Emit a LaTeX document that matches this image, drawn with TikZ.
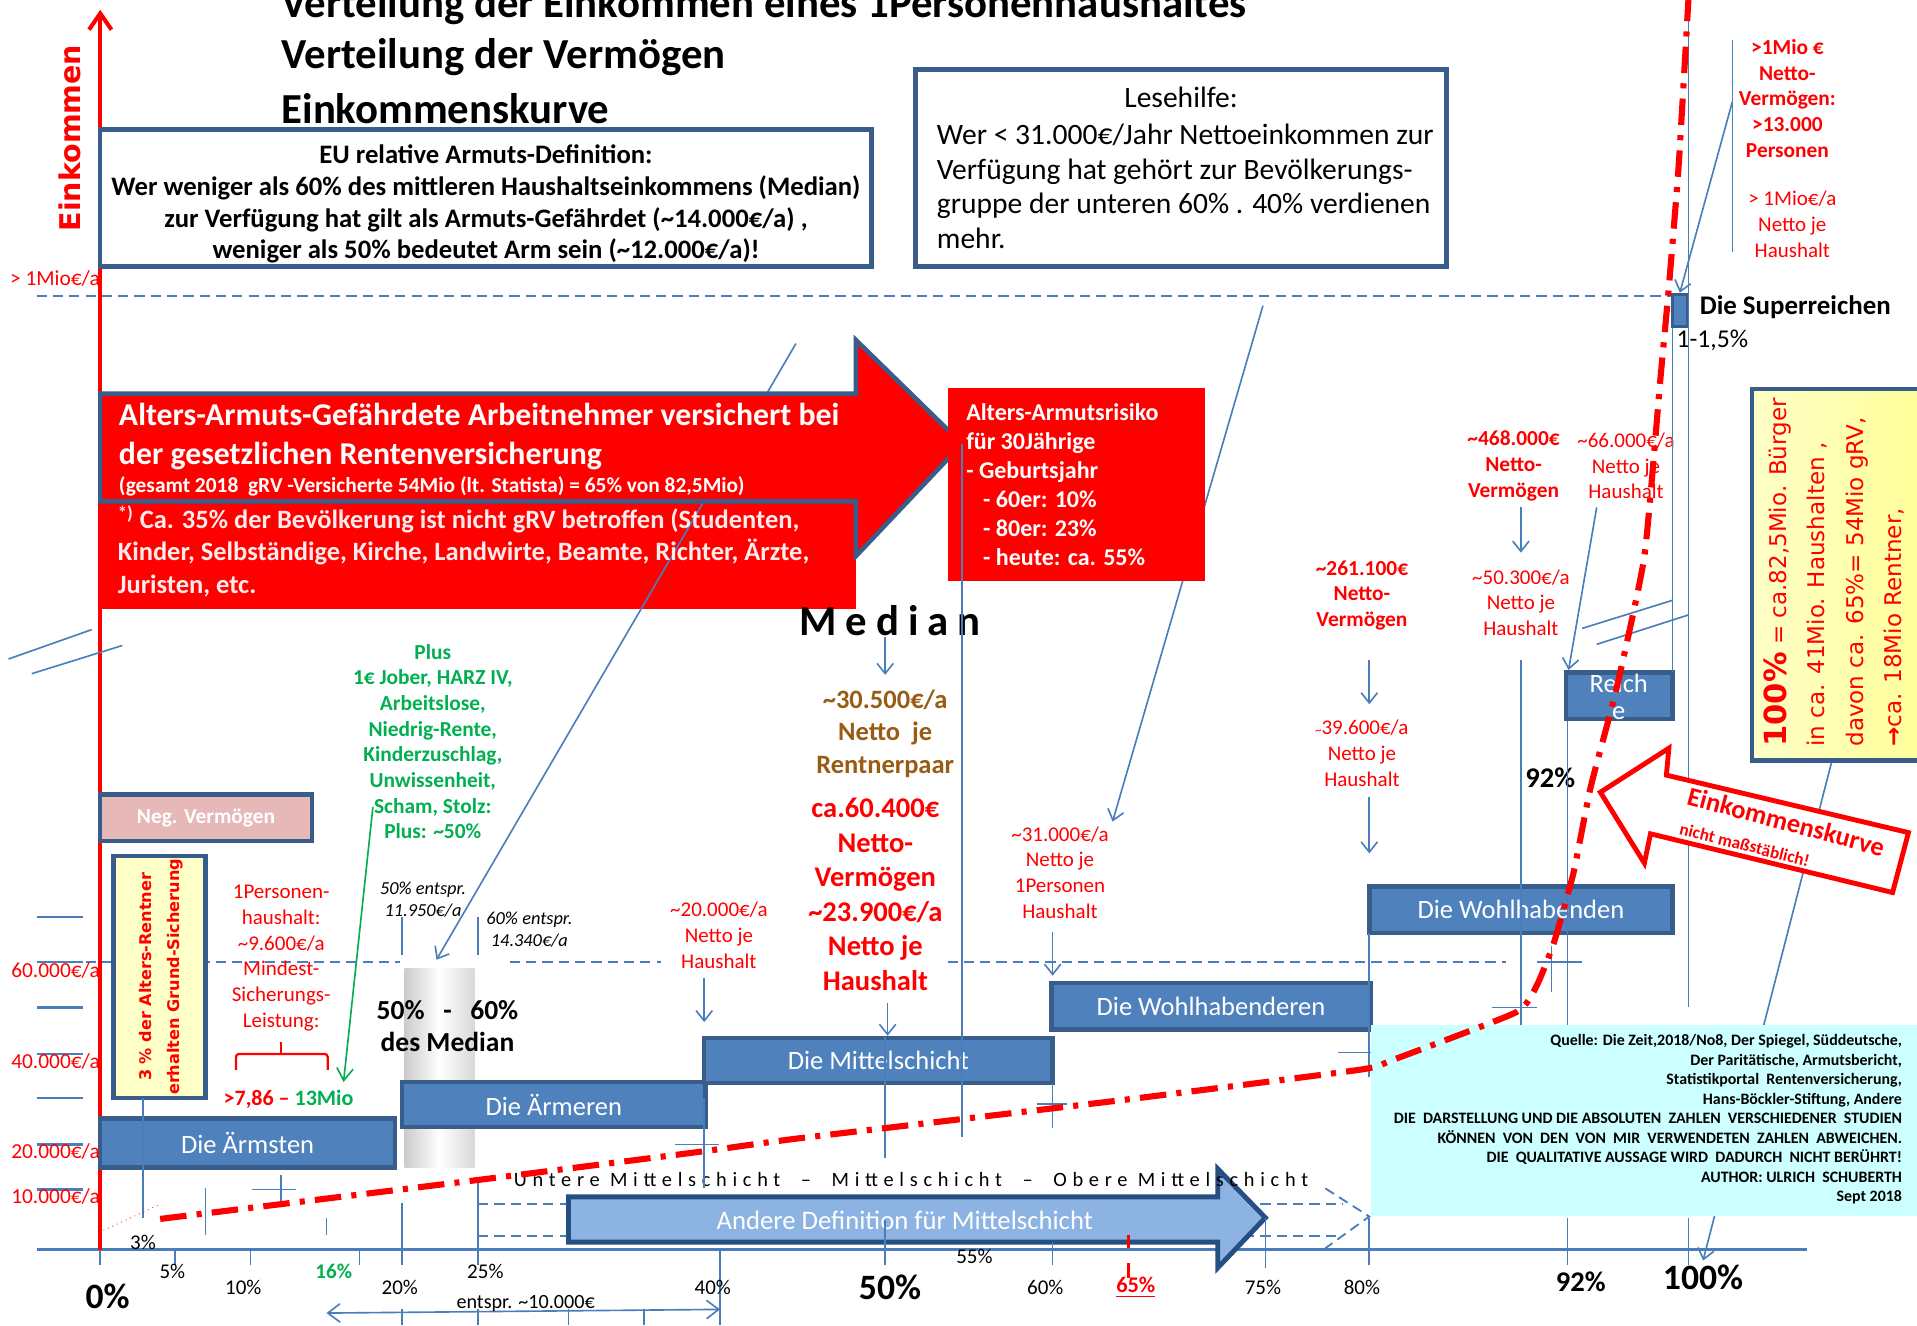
\documentclass[tikz,border=0pt]{standalone}
\usepackage{fontspec}
\setmainfont{Carlito}
\newfontfamily\verd{DejaVu Sans}
\newfontfamily\medfont[LetterSpace=21]{Carlito}
\newfontfamily\sprfont[LetterSpace=28]{Carlito}
\usetikzlibrary{arrows.meta}
\definecolor{bxfill}{HTML}{4F81BD}
\definecolor{bxline}{HTML}{385D8A}
\definecolor{ln}{HTML}{4A7EBB}
\definecolor{rd}{HTML}{FF0000}
\definecolor{gn}{HTML}{00B050}
\definecolor{brn}{HTML}{985C12}
\definecolor{cyanbx}{HTML}{CCFFFF}
\definecolor{pinkbx}{HTML}{E6B9B8}
\definecolor{ylwA}{HTML}{FFFFC8}
\definecolor{ylwB}{HTML}{FFFF99}
\definecolor{lblue}{HTML}{8DB3E2}
\definecolor{andline}{HTML}{254E82}
\newcommand{\tld}{\textasciitilde}
\newcommand{\fsz}[2]{\fontsize{#1}{#2}\selectfont}
\tikzset{
  lnn/.style={draw=ln, line width=0.8pt},
  arw/.style={draw=ln, line width=0.8pt, -{Straight Barb[length=5pt,width=8pt]}},
  garw/.style={draw=gn, line width=0.8pt, -{Straight Barb[length=6pt,width=8pt]}},
  dsh/.style={draw=ln, line width=0.9pt, dash pattern=on 5pt off 3pt},
  bluebx/.style={draw=bxline, fill=bxfill, line width=2.2pt, inner sep=0pt, text=white, font=\fsz{13}{15}},
  tx/.style={inner sep=0pt, align=center},
  rtx/.style={tx, text=rd, font=\fsz{10.3}{12.6}},
  rbtx/.style={tx, text=rd, font=\bfseries\fsz{10.5}{12.6}},
  pct/.style={inner sep=0pt, font=\fsz{10.3}{12}},
  bigpct/.style={inner sep=0pt, font=\bfseries\fsz{17.5}{20}},
  ylab/.style={inner sep=0pt, anchor=east, text=rd, font=\fsz{10.5}{12}},
  incurve/.style={draw=rd, line width=3pt, dash pattern=on 13pt off 5pt on 2.5pt off 5pt},
}
\begin{document}
\begin{tikzpicture}[x=0.6pt,y=-0.6pt]
\useasboundingbox (0,0) rectangle (1568,1084);
\fill[white] (0,0) rectangle (1568,1084);

% grey bar 50-60%
\shade[left color=gray!40, right color=gray!30, middle color=white] (331,792) rectangle (388,955);

% ghost dashed arrow
\draw[dsh] (391,985) -- (1098,985);
\draw[dsh] (391,1011) -- (1098,1011);
\draw[dsh] (1084,972) -- (1120,995) -- (1084,1021);

% y ticks
\foreach \yy in {750,787,824,862,898,936,973} \draw[draw=ln, line width=1.2pt] (30,\yy) -- (68,\yy);

% dashed guide lines
\draw[dsh] (30,242) -- (1368,242);
\draw[dsh] (30,787) -- (327,787);
\draw[dsh] (417,787) -- (541,787);
\draw[dsh] (775,787) -- (1232,787);

% x axis
\draw[draw=ln, line width=1.4pt] (30,1022) -- (1478,1022);

% red income axis
\coordinate (ax0) at (82,1022);
\coordinate (ax1) at (82,8);
\draw[rd, line width=2pt, -{Straight Barb[length=8pt,width=11pt]}] (ax0) -- (ax1);
\node[rotate=90, inner sep=0, text=rd, font=\verd\bfseries\fsz{14}{16}] (einkommen) at (57,113) {Einkommen};

% titles
\node[anchor=west, inner sep=0, font=\bfseries\fsz{21}{24}] (t1) at (230,5) {Verteilung der Einkommen eines 1Personenhaushaltes};
\node[anchor=west, inner sep=0, font=\bfseries\fsz{21}{24}] (t2) at (230,47) {Verteilung der Vermögen};
\node[anchor=west, inner sep=0, font=\bfseries\fsz{21}{24}] (t3) at (230,89) {Einkommenskurve};

% EU box
\node[draw=bxline, line width=2.2pt, fill=white, minimum width=378.6pt, minimum height=67.2pt, inner sep=0] (eu) at (397.5,162) {};
\node[tx, font=\bfseries\fsz{13.1}{15.6}] (eutxt) at (397.5,167) {EU relative Armuts-Definition:\\Wer weniger als 60\% des mittleren Haushaltseinkommens (Median)\\zur Verfügung hat gilt als Armuts-Gefährdet (\tld14.000€/a) ,\\weniger als 50\% bedeutet Arm sein (\tld12.000€/a)!};
\node[ylab] (mioa) at (82,228) {> 1Mio€/a};

% Lesehilfe box
\node[draw=bxline, line width=2.2pt, fill=white, minimum width=260.4pt, minimum height=96.6pt, inner sep=0] (lese) at (966,137.5) {};
\node[tx, font=\fsz{14.5}{17}] (lesetitle) at (966,80) {Lesehilfe:};
\node[inner sep=0, anchor=west, align=left, font=\fsz{14.5}{17}] (lesetxt) at (766,152.5) {Wer < 31.000€/Jahr Nettoeinkommen zur\\Verfügung hat gehört zur Bevölkerungs-\\gruppe der unteren 60\% . 40\% verdienen\\mehr.};

% red lower rect + connector + big red arrow
\fill[rd] (82,410) rectangle (700,498);
\coordinate (c1a) at (651,281);
\coordinate (c1b) at (357,785);
\draw[arw] (c1a) -- (c1b);
\draw[fill=rd, draw=bxline, line width=2.2pt, line join=miter] (82,322) -- (700,322) -- (700,278) -- (787,363) -- (700,455) -- (700,410) -- (82,410) -- cycle;
\node[anchor=west, inner sep=0, align=left, text=white, font=\bfseries\fsz{15.6}{19.2}] (arr1) at (97,357) {Alters-Armuts-Gefährdete Arbeitnehmer versichert bei\\der gesetzlichen Rentenversicherung};
\node[anchor=west, inner sep=0, text=white, font=\bfseries\fsz{10.5}{12}] (arr2) at (97,398) {(gesamt 2018\ \ gRV -Versicherte 54Mio (lt. Statista) = 65\% von 82,5Mio)};
\node[anchor=west, inner sep=0, align=left, text=white!92!red, font=\bfseries\fsz{13}{15.9}] (arr3) at (96,451) {\textsuperscript{*)} Ca. 35\% der Bevölkerung ist nicht gRV betroffen (Studenten,\\Kinder, Selbständige, Kirche, Landwirte, Beamte, Richter, Ärzte,\\Juristen, etc.};

% Lesehilfe connector (behind risk box)
\coordinate (c2a) at (1033,250);
\coordinate (c2b) at (910,672);
\draw[arw] (c2a) -- (c2b);

% risk box
\node[fill=rd, minimum width=126.6pt, minimum height=94.8pt, inner sep=0] (alt) at (880.5,396) {};
\node[anchor=west, inner sep=0, align=left, text=white, font=\bfseries\fsz{11.8}{14.2}] (alttxt) at (790,396.5) {Alters-Armutsrisiko\\für 30Jährige\\- Geburtsjahr\\\hspace*{0.7em}- 60er: 10\%\\\hspace*{0.7em}- 80er: 23\%\\\hspace*{0.7em}- heute: ca. 55\%};

% Median column
\node[inner sep=0, font=\medfont\bfseries\fsz{21}{24}] (median) at (728,508) {Median};
\node[tx, text=brn, font=\bfseries\fsz{13}{15.9}] (rentner) at (724,600) {\tld30.500€/a\\Netto\ \ je\\Rentnerpaar};
\node[tx, text=rd, font=\bfseries\fsz{14}{16.9}] (medv) at (716,731.5) {ca.60.400€\\Netto-\\Vermögen\\\tld23.900€/a\\Netto je\\Haushalt};

% green and red left texts
\node[tx, text=gn, font=\bfseries\fsz{10.5}{12.6}] (green) at (354,606.5) {Plus\\1€ Jober, HARZ IV,\\Arbeitslose,\\Niedrig-Rente,\\Kinderzuschlag,\\Unwissenheit,\\Scham, Stolz:\\Plus: \tld50\%};
\node[rtx] (mindest) at (230,783.5) {1Personen-\\haushalt:\\\tld9.600€/a\\Mindest-\\Sicherungs-\\Leistung:};
\draw[rd, line width=1.1pt, rounded corners=1.5pt] (193,875) -- (193,862) -- (268,862) -- (268,875);
\draw[rd, line width=1.1pt] (230,862) -- (230,852);
\node[inner sep=0, font=\bfseries\fsz{10.8}{12}] (mio13) at (236,899) {\textcolor{rd}{>7,86 –} \textcolor{gn}{13Mio}};
\node[tx, font=\itshape\fsz{9}{10.8}] (e50) at (346,736) {50\% entspr.\\11.950€/a};
\node[tx, font=\itshape\fsz{9}{10.8}] (e60) at (433,760) {60\% entspr.\\14.340€/a};
\node[tx, font=\bfseries\fsz{13.5}{15.6}] (mmed) at (366,839) {50\%\ \ \ -\ \ \ 60\%\\des Median};

% red annotations middle/right
\node[rtx] (n20) at (588,765) {\tld20.000€/a\\Netto je\\Haushalt};
\node[rtx] (n31) at (867,713.5) {\tld31.000€/a\\Netto je\\1Personen\\Haushalt};
\node[rbtx] (v261) at (1114,487) {\tld261.100€\\Netto-\\Vermögen};
\node[rtx] (n39) at (1114,616) {{\fsz{6}{6}\tld}39.600€/a\\Netto je\\Haushalt};
\node[rbtx] (v468) at (1238,381) {\tld468.000€\\Netto-\\Vermögen};
\node[rtx] (n66) at (1330,381) {\tld66.000€/a\\Netto je\\Haushalt};
\node[rtx] (n50) at (1244,493) {\tld50.300€/a\\Netto je\\Haushalt};
\node[rbtx] (mio1) at (1462,80.5) {>1Mio €\\Netto-\\Vermögen:\\>13.000\\Personen};
\node[rtx] (mio2) at (1466,183.5) {> 1Mio€/a\\Netto je\\Haushalt};
\node[inner sep=0, font=\bfseries\fsz{14}{16}] (p92b) at (1268,636) {92\%};

% boxes
\node[draw=bxline, fill=pinkbx, line width=2.2pt, minimum width=103.8pt, minimum height=22.8pt, inner sep=0, text=white, font=\bfseries\fsz{10.5}{12}] (neg) at (168.5,669) {Neg. Vermögen};
\node[draw=bxline, fill=ylwA, line width=2.2pt, minimum width=45pt, minimum height=118.8pt, inner sep=0] (ylA) at (130.5,799) {};
\node[rotate=90, tx, text=rd, font=\verd\bfseries\fsz{7.9}{13.6}] (ylAtxt) at (131.5,799) {3 \% der Alters-Rentner\\erhalten Grund-Sicherung};
\node[bluebx, minimum width=144.6pt, minimum height=24pt] (armsten) at (202.5,935) {Die Ärmsten};
\node[bluebx, minimum width=148.8pt, minimum height=22.2pt] (armeren) at (453,903.5) {Die Ärmeren};
\node[bluebx, minimum width=171pt, minimum height=22.2pt] (mittel) at (718.5,867.5) {Die Mittelschicht};
\node[bluebx, minimum width=156.6pt, minimum height=22.8pt] (wohlr) at (990.5,823) {Die Wohlhabenderen};
\node[bluebx, minimum width=148.8pt, minimum height=22.8pt] (wohl) at (1244,744) {Die Wohlhabenden};
\node[bluebx, minimum width=52.2pt, minimum height=22.8pt] (reiche) at (1324.5,569) {};
\node[tx, text=white, font=\fsz{13}{15}] (reicheA) at (1324,559) {Reich};
\node[tx, text=white, font=\fsz{13}{15}] (reicheB) at (1324,583) {e};
\node[draw=bxline, fill=bxfill, line width=1.5pt, minimum width=7.5pt, minimum height=16pt, inner sep=0] (superb) at (1374,254) {};
\node[anchor=west, inner sep=0, font=\bfseries\fsz{13.2}{15}] (supert) at (1390,251) {Die Superreichen};
\node[anchor=west, inner sep=0, font=\fsz{12.6}{14}] (superp) at (1371,278) {1-1,5\%};
\node[draw=bxline, left color=ylwA, right color=ylwB, line width=2.2pt, minimum width=85.2pt, minimum height=182.4pt, inner sep=0] (ylB) at (1504,470) {};
\node[rotate=90, anchor=west, inner sep=0, align=left, text=rd, font=\verd\fsz{11.3}{18.8}] (ylBtxt) at (1500,611) {{\bfseries\fsz{15}{18}100\%} = ca.82,5Mio. Bürger\\in ca. 41Mio. Haushalten ,\\davon ca. 65\%= 54Mio gRV,\\{\bfseries →}ca. 18Mio Rentner,};

% Andere Definition arrow
\draw[fill=lblue, draw=andline, line width=2.4pt, line join=miter] (465,979) -- (996,979) -- (996,956) -- (1035,996) -- (996,1037) -- (996,1016) -- (465,1016) -- cycle;
\node[tx, text=white, font=\fsz{13.1}{14}] (andere) at (740,998) {Andere Definition für Mittelschicht};
\node[anchor=west, inner sep=0, font=\sprfont\fsz{10}{12}] (schichten) at (420,965) {Untere Mittelschicht\ \ –\ \ Mittelschicht\ \ –\ \ Obere Mittelschicht};

% break marks
\draw[lnn] (7,539) -- (75,515);
\draw[lnn] (26,551) -- (100,528);
\draw[lnn] (1294,514) -- (1368,491);
\draw[lnn] (1306,527) -- (1381,503);

% vertical guide lines
\draw[lnn] (117,898) -- (117,996);
\draw[lnn] (168,972) -- (168,1010);
\draw[lnn] (230,961) -- (230,986); \draw[lnn] (206,973) -- (242,973);
\draw[lnn] (267,996) -- (267,1010);
\draw[lnn] (329,984) -- (329,1035);
\draw[lnn] (391,965) -- (391,1035);
\draw[lnn] (329,750) -- (329,781);
\draw[lnn] (391,750) -- (391,781);
\draw[lnn] (576,898) -- (576,972); \draw[lnn] (552,936) -- (588,936);
\draw[lnn] (724,848) -- (724,947); \draw[lnn] (724,998) -- (724,1035);
\draw[lnn] (787,363) -- (787,930);
\draw[lnn] (861,886) -- (861,923); \draw[lnn] (848,903) -- (873,903);
\draw[lnn] (861,1016) -- (861,1035);
\draw[lnn] (1035,996) -- (1035,1037);
\draw[lnn] (1120,763) -- (1120,881); \draw[lnn] (1094,861) -- (1146,861);
\draw[lnn] (1120,996) -- (1120,1035);
\draw[lnn] (1244,540) -- (1244,838);
\draw[lnn] (1220,824) -- (1257,824);
\draw[lnn] (1269,774) -- (1269,811); \draw[lnn] (1257,787) -- (1294,787);
\draw[lnn] (reiche.south -| 1282,588) -- (1282,838); \draw[lnn] (1282,996) -- (1282,1035);
\draw[lnn] (1368,268) -- (1368,550);
\draw[lnn] (1381,0) -- (1381,824); \draw[lnn] (1381,996) -- (1381,1035);
\draw[lnn] (1417,33) -- (1417,206);
\foreach \xx in {82,143,205,294} \draw[lnn] (\xx,1022) -- (\xx,1035);
\draw[lnn] (589,1022) -- (589,1084);
\foreach \xx in {329,391,465,527} \draw[lnn] (\xx,1071) -- (\xx,1084);
\draw[rd, line width=1.6pt] (923,1010) -- (923,1021);
\draw[rd, line width=1.6pt] (923,1033) -- (923,1045);
\draw[rd, line width=0.4pt, dotted] (81,1008) -- (131,985);

% arrows
\draw[arw] (median.south -| 724,527) -- (724,552);
\draw[arw] (726,820) -- (mittel.north -| 726,0);
\draw[arw] (576,800) -- (576,836);
\draw[arw] (861,762) -- (861,798);
\draw[arw] (1120,540) -- (1120,576);
\draw[arw] (1120,652) -- (1120,698);
\draw[arw] (1244,415) -- (1244,452);
\draw[arw] (1306,415) -- (1283,548);
\draw[arw] (1417,83) -- (superb.north);
\draw[arw] (ylB.south -| 1498,0) -- (1393,1031);
\draw[garw] (305,660) -- (281,885);
\draw[lnn, {Straight Barb[length=6pt,width=9pt]}-{Straight Barb[length=6pt,width=9pt]}] (267,1074) -- (589,1071);

% source box
\node[fill=cyanbx, minimum width=268.2pt, minimum height=94.2pt, inner sep=0] (quelle) at (1344.5,916.5) {};
\node[anchor=east, inner sep=0, align=right, font=\bfseries\fsz{7.8}{9.55}] (quelletxt) at (1556,915.5) {Quelle: Die Zeit,2018/No8, Der Spiegel, Süddeutsche,\\Der Paritätische, Armutsbericht,\\Statistikportal\ \ Rentenversicherung,\\Hans-Böckler-Stiftung, Andere\\DIE\ \ DARSTELLUNG UND DIE ABSOLUTEN\ \ ZAHLEN\ \ VERSCHIEDENER\ \ STUDIEN\\KÖNNEN\ \ VON\ \ DEN\ \ VON\ \ MIR\ \ VERWENDETEN\ \ ZAHLEN\ \ ABWEICHEN.\\DIE\ \ QUALITATIVE AUSSAGE WIRD\ \ DADURCH\ \ NICHT BERÜHRT!\\AUTHOR: ULRICH\ \ SCHUBERTH\\Sept 2018};

% axis labels
\node[ylab] (y60) at (82,794) {60.000€/a};
\node[ylab] (y40) at (82,868) {40.000€/a};
\node[ylab] (y20) at (82,942) {20.000€/a};
\node[ylab] (y10) at (82,979) {10.000€/a};
\node[bigpct] (p0) at (88,1060) {0\%};
\node[pct] (p3) at (117,1016) {3\%};
\node[pct] (p5) at (141,1040) {5\%};
\node[pct] (p10) at (199,1053) {10\%};
\node[pct, text=gn, font=\bfseries\fsz{10.3}{12}] (p16) at (273,1040) {16\%};
\node[pct] (p20) at (327,1053) {20\%};
\node[pct] (p25) at (397,1040) {25\%};
\node[pct] (p40) at (583,1053) {40\%};
\node[bigpct] (p50) at (728,1053) {50\%};
\node[pct] (p55) at (797,1028) {55\%};
\node[pct] (p60) at (855,1053) {60\%};
\node[pct, text=rd, font=\bfseries\fsz{11}{12}] (p65) at (929,1053) {\underline{65\%}};
\node[pct] (p75) at (1033,1053) {75\%};
\node[pct] (p80) at (1114,1053) {80\%};
\node[inner sep=0, font=\bfseries\fsz{14}{16}] (p92) at (1293,1048) {92\%};
\node[bigpct] (p100) at (1393,1045) {100\%};
\node[pct, font=\fsz{9.9}{12}] (entspr) at (430,1066) {entspr. \tld10.000€};

% Einkommenskurve arrow
\draw[draw=rd, fill=white, line width=2.4pt, line join=miter] (1309,648) -- (1365,612) -- (1363,634) -- (1561,681) -- (1548,730) -- (1350,682) -- (1345,706) -- cycle;
\node[rotate=-15, inner sep=0, text=rd, font=\bfseries\fsz{13}{15}] (ekk) at (1461,672) {Einkommenskurve};
\node[rotate=-14, inner sep=0, text=rd, font=\bfseries\fsz{8.5}{10}] (nms) at (1427,691) {nicht maßstäblich!};

% income curve
\draw[incurve] plot[smooth, tension=0.3] coordinates {(131,997) (392,965) (573,942) (654,931) (916,900) (1112,875) (1139,867) (1240,828) (1257,806) (1271,771) (1287,714) (1301,644) (1322,564) (1345,455) (1358,311) (1365,235) (1373,136) (1381,0)};
\end{tikzpicture}
\end{document}
